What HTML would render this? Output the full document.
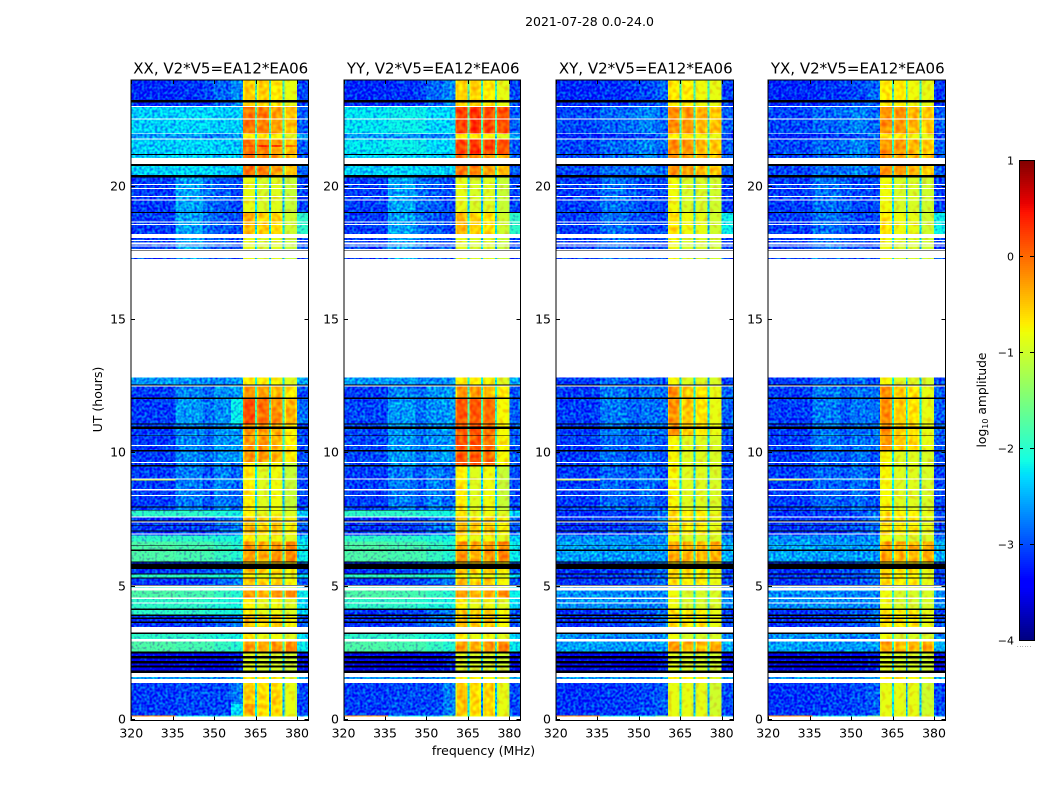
<!DOCTYPE html>
<html>
<head>
<meta charset="utf-8">
<title>2021-07-28 0.0-24.0</title>
<style>
html,body{margin:0;padding:0;background:#fff;width:1050px;height:800px;overflow:hidden}
svg{display:block}
text{font-family:"DejaVu Sans","Liberation Sans",sans-serif;fill:#000}
</style>
</head>
<body>
<svg id="figure" xmlns="http://www.w3.org/2000/svg" width="1050" height="800" viewBox="0 0 1050 800">
<defs>
<filter id="speckle-low" x="0" y="0" width="100%" height="100%" color-interpolation-filters="sRGB">
<feTurbulence type="fractalNoise" baseFrequency="0.38" numOctaves="1" seed="4" stitchTiles="noStitch" result="raw"/>
<feColorMatrix in="raw" type="matrix" values="0 0 0 0 0.54  2 0 0 0 -0.5  0 0 0 0 0.5  0 0 0 0 1" result="grain"/>
<feComposite in="grain" in2="SourceAlpha" operator="in" result="masked"/>
<feComposite in="SourceGraphic" in2="masked" operator="arithmetic" k1="0" k2="1" k3="0.7" k4="-0.378"/>
</filter>
<filter id="speckle-band" x="0" y="0" width="100%" height="100%" color-interpolation-filters="sRGB">
<feTurbulence type="fractalNoise" baseFrequency="0.22" numOctaves="1" seed="9" result="raw"/>
<feColorMatrix in="raw" type="matrix" values="0 0 0 0 0.5  2 0 0 0 -0.5  0 0 0 0 0.5  0 0 0 0 1" result="grain"/>
<feComposite in="grain" in2="SourceAlpha" operator="in" result="masked"/>
<feComposite in="SourceGraphic" in2="masked" operator="arithmetic" k1="0" k2="1" k3="0.35" k4="-0.175"/>
</filter>
</defs>
<rect x="0" y="0" width="1050" height="800" fill="#fff"/>
<text x="589.5" y="26" font-size="12.5" text-anchor="middle">2021-07-28 0.0-24.0</text>
<text transform="translate(102,399.5) rotate(-90)" font-size="12.5" text-anchor="middle">UT (hours)</text>
<text x="483.5" y="755" font-size="12.5" text-anchor="middle">frequency (MHz)</text>
<text transform="translate(986,400) rotate(-90)" font-size="12.3" text-anchor="middle">log<tspan font-size="8" dy="2">10</tspan><tspan dy="-2"> amplitude</tspan></text>
</svg>
<script>
// ---- chart data ----
const panelTitles = ['XX, V2*V5=EA12*EA06','YY, V2*V5=EA12*EA06','XY, V2*V5=EA12*EA06','YX, V2*V5=EA12*EA06'];
const xTickValues = [320,335,350,365,380];
const yTickValues = [0,5,10,15,20];
const colorbarTicks = [1,0,-1,-2,-3,-4];
// frequency bin edges in MHz
const freqEdges = [320,336,346,350,356,360.5,361,364,364.8,365.5,366,369,369.8,370.5,371,374,374.8,375.5,376,379.3,380,384];
// log10 amplitude spectra, one value per frequency bin; w = flagged (blank), k = below colour range
const spectra = {
  k:[-9,-9,-9,-9,-9,-9,-9,-9,-9,-9,-9,-9,-9,-9,-9,-9,-9,-9,-9,-9,-9],
  z:[-0.2,-2.2,-2.2,-2.2,-1.6,-0.8,-0.8,-0.8,-2,-0.8,-0.8,-0.8,-2,-0.8,-0.8,-0.8,-2,-0.8,-0.8,-0.8,-2.5],
  a:[-3.05,-3,-3,-3,-2.75,-0.95,-0.5,-0.6,-2.2,-0.95,-0.6,-0.75,-2.6,-0.9,-0.55,-0.75,-2.4,-1.15,-0.85,-1.05,-3],
  i:[-3.05,-3,-3,-3,-2.3,-0.85,-0.35,-0.45,-2.2,-0.95,-0.6,-0.75,-2.6,-0.9,-0.55,-0.75,-2.4,-1.15,-0.85,-1.05,-3],
  b:[-3.05,-2.75,-2.95,-2.72,-2.85,-0.9,-0.7,-0.8,-2.2,-1.1,-0.9,-1,-2.3,-0.95,-0.8,-0.9,-2.4,-1.2,-1.05,-1.15,-3],
  o:[-3.05,-2.7,-2.85,-2.62,-2.6,-0.6,-0.25,-0.3,-1.9,-0.6,-0.25,-0.35,-1.9,-0.7,-0.4,-0.5,-2,-1,-0.7,-0.85,-3],
  r:[-3.05,-2.6,-2.8,-2.65,-2.2,-0.1,0.15,0.1,-1.8,-0.3,0,-0.1,-1.8,-0.45,-0.2,-0.3,-1.9,-0.75,-0.4,-0.5,-2.8],
  v:[-3,-2.6,-2.8,-2.65,-2.6,-0.1,0.1,0.05,-1.8,-0.1,0.1,0.05,-1.8,-0.2,-0.05,-0.1,-1.9,-0.9,-0.75,-0.85,-2.9],
  e:[-2.6,-2.6,-2.7,-2.7,-2.6,-0.8,-0.7,-0.75,-2.1,-0.9,-0.7,-0.8,-2.2,-0.9,-0.75,-0.85,-2.2,-1,-0.9,-1,-2.5],
  g:[-1.8,-1.85,-1.85,-1.95,-2.05,-0.5,-0.25,-0.3,-1.7,-0.7,-0.35,-0.45,-1.8,-0.55,-0.25,-0.4,-1.8,-0.6,-0.15,-0.3,-2.2],
  h:[-2,-2,-2.05,-2.1,-2.15,-0.8,-0.7,-0.8,-1.7,-1.05,-0.85,-0.95,-1.9,-0.95,-0.8,-0.9,-1.9,-1.1,-0.9,-1,-2.3],
  n:[-3.1,-3.05,-3,-2.85,-2.75,-0.8,-0.45,-0.5,-2,-0.9,-0.55,-0.65,-2.1,-0.85,-0.5,-0.6,-2.1,-1,-0.75,-0.85,-2.9],
  d:[-3.5,-3.45,-3.4,-3.4,-3.2,-1.1,-0.9,-1,-2.4,-1.1,-0.95,-1.05,-2.5,-1.1,-0.95,-1.05,-2.5,-1.15,-1,-1.1,-3.3],
  c:[-2.35,-2.3,-2.3,-2.35,-2.35,-0.15,-0.05,-0.1,-1.7,-0.3,-0.1,-0.15,-1.8,-0.5,-0.3,-0.4,-1.8,-0.75,-0.45,-0.5,-2.9],
  j:[-2.4,-2.35,-2.3,-2.4,-2.4,-0.1,0.15,-0.05,-1.7,-0.15,0.35,0.1,-1.8,-0.2,0.3,0.05,-1.8,-0.4,-0.05,-0.2,-2.9],
  u:[-2.25,-2.2,-2.2,-2.3,-2.3,0.05,0.2,0.1,-1.7,0,0.3,0.15,-1.8,-0.1,0.2,0.05,-1.8,-0.1,0.15,0,-2.9],
  t:[-3.15,-3.1,-3,-2.85,-2.7,-0.7,-0.55,-0.6,-1.8,-0.8,-0.55,-0.6,-1.9,-0.8,-0.7,-0.75,-1.9,-0.95,-0.85,-0.9,-3],
  m:[-3.05,-2.55,-2.8,-2.9,-3,-1,-0.85,-0.9,-2.3,-1.1,-0.95,-1.05,-2.4,-1.1,-0.9,-1,-2.4,-1.2,-1.05,-1.1,-3],
  q:[-3.05,-2.55,-2.8,-2.9,-3,-0.6,-0.4,-0.5,-2.2,-0.8,-0.55,-0.6,-2.2,-0.8,-0.6,-0.7,-2.2,-1.1,-1,-1.05,-2],
  l:[-0.95,-2.7,-2.6,-2.6,-2.5,-0.9,-0.8,-0.85,-2.2,-1,-0.9,-1,-2.3,-1,-0.9,-1,-2.4,-1.2,-1.05,-1.1,-3],
  A:[-3.1,-3.05,-3.05,-3,-2.9,-1,-0.85,-0.9,-2.2,-1,-0.85,-0.95,-2.5,-1,-0.85,-0.95,-2.4,-1.1,-1,-1.05,-3],
  B:[-3.05,-2.85,-2.95,-2.8,-2.95,-0.9,-0.75,-0.85,-2.2,-1.05,-0.9,-1,-2.3,-1,-0.9,-1,-2.4,-1.05,-0.95,-1,-3],
  O:[-3.05,-2.75,-2.9,-2.78,-2.8,-0.45,-0.2,-0.3,-2,-0.7,-0.5,-0.6,-2.1,-0.8,-0.65,-0.7,-2.2,-0.95,-0.85,-0.9,-2.9],
  G:[-2.55,-2.6,-2.6,-2.6,-2.6,-0.6,-0.3,-0.35,-2,-0.7,-0.4,-0.5,-2,-0.7,-0.4,-0.5,-2,-0.8,-0.35,-0.45,-2.5],
  H:[-2.65,-2.65,-2.7,-2.7,-2.7,-0.95,-0.8,-0.9,-2,-1.1,-0.95,-1.05,-2.1,-1.1,-0.95,-1.05,-2.1,-1.1,-0.95,-1.05,-2.7],
  N:[-3.1,-3.05,-3,-2.95,-2.8,-0.9,-0.6,-0.7,-2.1,-0.95,-0.7,-0.8,-2.2,-0.95,-0.7,-0.8,-2.2,-1,-0.85,-0.95,-3],
  C:[-3,-2.85,-2.8,-2.7,-2.85,-0.35,-0.2,-0.25,-1.9,-0.45,-0.25,-0.3,-1.9,-0.6,-0.4,-0.5,-1.9,-0.7,-0.5,-0.55,-2.9],
  T:[-3.15,-3.1,-3.05,-3,-2.85,-0.8,-0.7,-0.75,-1.9,-0.85,-0.7,-0.75,-1.9,-0.9,-0.8,-0.85,-1.9,-0.95,-0.85,-0.9,-3.05],
  M:[-3.05,-2.8,-2.9,-3,-3,-0.9,-0.8,-0.85,-2.3,-1.05,-0.95,-1,-2.4,-1.05,-0.95,-1,-2.4,-1.1,-1,-1.05,-3.05],
  Q:[-3.05,-2.8,-2.9,-3,-3,-0.8,-0.65,-0.7,-2.3,-0.9,-0.8,-0.85,-2.3,-0.95,-0.85,-0.9,-2.3,-1.1,-1,-1.05,-2.2]
};
// time rows, bottom up: upper edge in UT hours, then the spectrum shown in XX, YY, XY, YX
const timeRows = [
 [0.14,'wwww'],[0.165,'zzzz'],[0.6,'iaAA'],[1.39,'aaAA'],[1.54,'wwww'],[1.62,'eeee'],[1.77,'wwww'],
 [1.86,'kkkk'],[1.96,'dddd'],[2.05,'kkkk'],[2.12,'dddd'],[2.21,'kkkk'],[2.31,'dddd'],[2.4,'kkkk'],[2.49,'dddd'],[2.56,'kkkk'],
 [2.94,'ggGG'],[3.03,'wwww'],[3.225,'hhHH'],[3.29,'kkkk'],[3.48,'wwww'],[3.63,'nnNN'],[3.7,'kkkk'],[3.79,'nnNN'],[3.84,'kkkk'],[3.9,'nnNN'],[3.96,'kkkk'],
 [4.125,'hnNN'],[4.19,'kkkk'],[4.36,'hhHH'],[4.41,'wwww'],[4.54,'hhHH'],[4.59,'wwww'],[4.86,'ggHH'],[4.96,'wwww'],[4.99,'hhHH'],[5.04,'wwww'],[5.07,'kkkk'],
 [5.31,'nnNN'],[5.34,'kkkk'],[5.46,'hhNN'],[5.5,'kkkk'],[5.67,'nnNN'],[5.86,'kkkk'],[5.9,'nnNN'],[5.94,'kkkk'],
 [6.34,'ggGG'],[6.4,'kkkk'],[6.525,'ggGG'],[6.55,'kkkk'],[6.685,'ggGG'],[6.91,'hhHH'],[6.96,'nnNN'],[7,'wwww'],[7.075,'nnNN'],[7.11,'kkkk'],[7.275,'nnNN'],[7.3,'kkkk'],[7.4,'nnNN'],[7.44,'wwww'],[7.475,'kkkk'],[7.59,'nnNN'],[7.625,'wwww'],
 [7.85,'hhNN'],[7.875,'kkkk'],[7.975,'bbBB'],[8,'kkkk'],[8.4,'bbBB'],[8.44,'wwww'],[8.6,'bbBB'],[8.66,'wwww'],[8.975,'bbBB'],[9.01,'lbll'],[9.06,'wwww'],
 [9.5,'bbBB'],[9.56,'kkkk'],[9.64,'bvBB'],[9.675,'wwww'],[10.06,'ovBB'],[10.125,'kkkk'],[10.275,'ovBO'],[10.31,'wwww'],[10.65,'ovBO'],[10.675,'kkkk'],[10.92,'ovOO'],[11,'kkkk'],[11.075,'ovOO'],[11.125,'kkkk'],
 [12.04,'rvOO'],[12.1,'kkkk'],[12.5,'ooOO'],[12.55,'wwww'],[12.575,'kkkk'],[12.85,'eeBB'],[17.29,'wwww'],
 [17.325,'mmMM'],[17.61,'wwww'],[17.625,'kkkk'],[17.66,'wwww'],[17.75,'mmMM'],[17.79,'wwww'],[17.84,'mmMM'],[17.9,'wwww'],[17.96,'mmMM'],[18,'wwww'],[18.075,'mmMM'],[18.225,'wwww'],
 [18.56,'qqQQ'],[18.6,'wwww'],[18.66,'qqQQ'],[18.7,'wwww'],[19.02,'qqQQ'],[19.05,'kkkk'],[19.475,'mmMM'],[19.51,'wwww'],[19.61,'mmMM'],[19.65,'wwww'],[19.91,'mmMM'],[19.95,'wwww'],[20.06,'mmMM'],[20.1,'wwww'],[20.34,'mmMM'],[20.44,'kkkk'],
 [20.775,'ccCC'],[20.85,'kkkk'],[21.08,'wwww'],[21.19,'ccCC'],[21.225,'kkkk'],[21.49,'cuCC'],[21.56,'juCC'],[21.76,'cuCC'],[21.8,'wwww'],[21.975,'eeTT'],[22,'wwww'],
 [22.51,'cuCC'],[22.55,'wwww'],[22.99,'cuCC'],[23.025,'wwww'],[23.15,'ttTT'],[23.25,'kkkk'],[24,'ttTT']
];

// ---- axes ----
const SVG_NS = 'http://www.w3.org/2000/svg';
const fig = document.getElementById('figure');
const FREQ_MIN = 320, FREQ_MAX = 384, HOUR_MAX = 24;
const PANEL_W = 176.9, PANEL_GAP = 35.4, PANEL_LEFT = 131.25, PLOT_TOP = 80, PLOT_H = 640;
const CB_LEFT = 1019, CB_W = 15, CB_TOP = 160, CB_H = 480, CB_MIN = -4, CB_MAX = 1;
const BAND_LEVEL = -1.5;
const panelLeft = i => PANEL_LEFT + i * (PANEL_W + PANEL_GAP);
const xScale = (i, f) => panelLeft(i) + (f - FREQ_MIN) / (FREQ_MAX - FREQ_MIN) * PANEL_W;
const yScale = h => PLOT_TOP + PLOT_H - h / HOUR_MAX * PLOT_H;
const cbScale = v => CB_TOP + (CB_MAX - v) / (CB_MAX - CB_MIN) * CB_H;

function ramp(points, t) {
  for (let n = 1; n < points.length; n++) {
    if (t <= points[n][0]) {
      const p = points[n - 1], q = points[n];
      return p[1] + (q[1] - p[1]) * (t - p[0]) / (q[0] - p[0]);
    }
  }
  return points[points.length - 1][1];
}
function colourOf(v) {
  if (v < CB_MIN) return '#000';
  const t = Math.min(1, (v - CB_MIN) / (CB_MAX - CB_MIN));
  const r = ramp([[0,0],[0.35,0],[0.66,1],[0.89,1],[1,0.5]], t);
  const g = ramp([[0,0],[0.125,0],[0.375,1],[0.64,1],[0.91,0],[1,0]], t);
  const b = ramp([[0,0.5],[0.11,1],[0.34,1],[0.65,0],[1,0]], t);
  return 'rgb(' + Math.round(r * 255) + ',' + Math.round(g * 255) + ',' + Math.round(b * 255) + ')';
}
function make(tag, attrs, parent) {
  const el = document.createElementNS(SVG_NS, tag);
  for (const key in attrs) el.setAttribute(key, attrs[key]);
  parent.appendChild(el);
  return el;
}
function snap(v) { return Math.round(v) + 0.5; }

panelTitles.forEach((title, p) => {
  const group = make('g', {}, fig);
  
  

  const heatLow = make('g', { 'shape-rendering': 'crispEdges', filter: 'url(#speckle-low)' }, group);
  
  
  const heatBand = make('g', { 'shape-rendering': 'crispEdges', filter: 'url(#speckle-band)' }, group);
  
  
  const heatFlag = make('g', { 'shape-rendering': 'crispEdges' }, group);
  
  

  let lower = 0;
  timeRows.forEach(row => {
    const upper = row[0];
    const spectrum = spectra[row[1][p]];
    if (spectrum) {
      spectrum.forEach((value, c) => {
        const x0 = xScale(p, freqEdges[c]), x1 = xScale(p, freqEdges[c + 1]);
        const y0 = yScale(upper), y1 = yScale(lower);
        const target = value < CB_MIN ? heatFlag : (value < BAND_LEVEL ? heatLow : heatBand);
        const cell = make('rect', { x: x0, y: y0, width: x1 - x0, height: y1 - y0, fill: colourOf(value) }, target);
        
        
      });
    }
    lower = upper;
  });

  const left = Math.round(xScale(p, FREQ_MIN)), right = snap(xScale(p, FREQ_MAX));
  const top = yScale(HOUR_MAX), bottom = yScale(0) + 0.5;

  xTickValues.forEach(v => {
    const x = snap(xScale(p, v));
    const tickB = make('line', { x1: x, x2: x, y1: bottom, y2: bottom - 4, stroke: '#000' }, group);
    
    
    const tickT = make('line', { x1: x, x2: x, y1: top, y2: top + 4, stroke: '#000' }, group);
    
    
    const label = make('text', { x: xScale(p, v), y: 737.5, 'font-size': 12.5, 'text-anchor': 'middle' }, group);
    
    
    label.textContent = String(v);
  });
  yTickValues.forEach(v => {
    const y = snap(yScale(v)) - 1;
    const tickL = make('line', { x1: left, x2: left + 4, y1: y, y2: y, stroke: '#000' }, group);
    
    
    const tickR = make('line', { x1: right, x2: right - 4, y1: y, y2: y, stroke: '#000' }, group);
    
    
    const label = make('text', { x: left - 5, y: y + 4, 'font-size': 12.5, 'text-anchor': 'end' }, group);
    
    
    label.textContent = String(v);
  });

  const frame = make('rect', { x: left, y: top, width: right - left, height: bottom - top, fill: 'none', stroke: '#000' }, group);
  
  

  const heading = make('text', { x: (left + right) / 2 + 1, y: 73.5, 'font-size': 15, 'text-anchor': 'middle' }, group);
  
  
  heading.textContent = title;
});

// ---- colorbar ----
const cb = make('g', {}, fig);


const CB_STEPS = 240;
const cbCells = make('g', { 'shape-rendering': 'crispEdges' }, cb);


for (let n = 0; n < CB_STEPS; n++) {
  const lo = CB_MIN + (CB_MAX - CB_MIN) * n / CB_STEPS;
  const hi = CB_MIN + (CB_MAX - CB_MIN) * (n + 1) / CB_STEPS;
  const step = make('rect', { x: CB_LEFT, y: cbScale(hi), width: CB_W, height: cbScale(lo) - cbScale(hi), fill: colourOf((lo + hi) / 2) }, cbCells);
  
  
}
colorbarTicks.forEach(v => {
  const y = cbScale(v) + 0.5;
  const t1 = make('line', { x1: CB_LEFT, x2: CB_LEFT + 4, y1: y, y2: y, stroke: '#000' }, cb);
  
  
  const t2 = make('line', { x1: CB_LEFT + CB_W, x2: CB_LEFT + CB_W - 4, y1: y, y2: y, stroke: '#000' }, cb);
  
  
  const label = make('text', { x: CB_LEFT - 5, y: y + 4, 'font-size': 11, 'text-anchor': 'end' }, cb);
  
  
  label.textContent = v < 0 ? '\u2212' + Math.abs(v) : String(v);
});
const cbFrame = make('rect', { x: CB_LEFT + 0.5, y: CB_TOP + 0.5, width: CB_W, height: CB_H, fill: 'none', stroke: '#000' }, cb);


const cbDots = make('text', { x: CB_LEFT - 2, y: CB_TOP + CB_H + 7, 'font-size': 5, fill: '#555', 'letter-spacing': '0.9' }, cb);


cbDots.textContent = '......';
</script>
</body>
</html>
